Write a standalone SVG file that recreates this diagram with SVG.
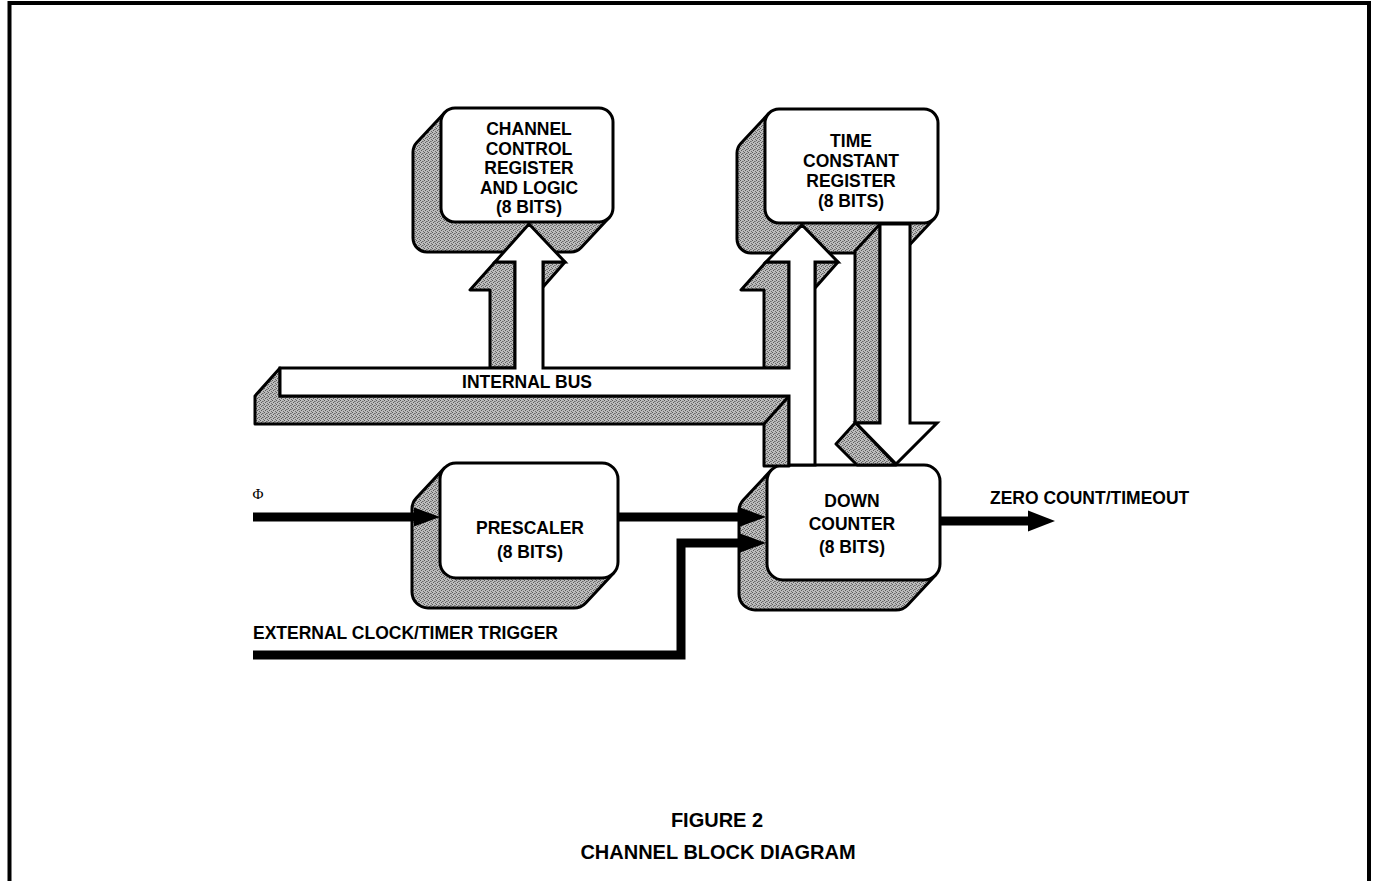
<svg xmlns="http://www.w3.org/2000/svg" width="1375" height="881" viewBox="0 0 1375 881">
<defs>
<pattern id="stip" width="4" height="4" patternUnits="userSpaceOnUse">
<rect width="4" height="4" fill="#bcbcbc"/>
<rect x="0" y="0" width="1" height="1" fill="#5a5a5a"/>
<rect x="2" y="1" width="1" height="1" fill="#6a6a6a"/>
<rect x="1" y="2" width="1" height="1" fill="#5a5a5a"/>
<rect x="3" y="3" width="1" height="1" fill="#6a6a6a"/>
<rect x="3" y="1" width="1" height="1" fill="#8a8a8a"/>
</pattern>
</defs>
<style>
.sh{fill:url(#stip);stroke:#000;stroke-width:3;stroke-linejoin:round}
.fr{fill:#fff;stroke:#000;stroke-width:3}
.wt{fill:#fff;stroke:#000;stroke-width:3;stroke-linejoin:miter}
.lbl{font-family:"Liberation Sans",Arial,sans-serif;font-weight:bold;font-size:17.5px;fill:#000}
.mid{text-anchor:middle}
.ln{fill:none;stroke:#000;stroke-width:9;stroke-linejoin:miter}
.ah{fill:#000}
.title{font-family:"Liberation Sans",Arial,sans-serif;font-weight:bold;font-size:20px;text-anchor:middle;fill:#000}
</style>
<rect width="1375" height="881" fill="#fff"/>
<g id="border" fill="none" stroke="#000" stroke-width="4">
<path d="M9.5,881 V3 H1369 V881"/>
</g>

<g id="ccr">
<path class="sh" d="M444.8,112.5 L416.8,142.5 A14,14 0 0 0 413,152 L413,238 A14,14 0 0 0 427,252 L571,252 A14,14 0 0 0 581.2,247.5 L609.2,217.5 Z"/>
<rect class="fr" x="441" y="108" width="172" height="114" rx="14"/>
<text class="lbl mid" x="529" y="135">CHANNEL</text>
<text class="lbl mid" x="529" y="154.5">CONTROL</text>
<text class="lbl mid" x="529" y="174">REGISTER</text>
<text class="lbl mid" x="529" y="193.5">AND LOGIC</text>
<text class="lbl mid" x="529" y="213">(8 BITS)</text>
</g>

<g id="tcr">
<path class="sh" d="M768.8,113.5 L740.8,143.5 A14,14 0 0 0 737,153 L737,239 A14,14 0 0 0 751,253 L896,253 A14,14 0 0 0 906.2,248.5 L934.2,218.5 Z"/>
<rect class="fr" x="765" y="109" width="173" height="114" rx="14"/>
<text class="lbl mid" x="851" y="146.5">TIME</text>
<text class="lbl mid" x="851" y="167">CONSTANT</text>
<text class="lbl mid" x="851" y="187">REGISTER</text>
<text class="lbl mid" x="851" y="207">(8 BITS)</text>
</g>

<g id="prescaler">
<path class="sh" d="M444.3,468.1 L416.3,498.1 A16,16 0 0 0 412,509 L412,592 A16,16 0 0 0 428,608 L574,608 A16,16 0 0 0 585.7,602.9 L613.7,572.9 Z"/>
<rect class="fr" x="440" y="463" width="178" height="115" rx="16"/>
<text class="lbl mid" x="530" y="534">PRESCALER</text>
<text class="lbl mid" x="530" y="558">(8 BITS)</text>
</g>

<g id="downcounter">
<path class="sh" d="M771.3,470.1 L743.3,500.1 A16,16 0 0 0 739,511 L739,594 A16,16 0 0 0 755,610 L896,610 A16,16 0 0 0 907.7,604.9 L935.7,574.9 Z"/>
<rect class="fr" x="767" y="465" width="173" height="115" rx="16"/>
<text class="lbl mid" x="852" y="507">DOWN</text>
<text class="lbl mid" x="852" y="530">COUNTER</text>
<text class="lbl mid" x="852" y="553">(8 BITS)</text>
</g>

<g id="connectors">
<path class="sh" d="M280,368 L255,396 L255,424 L764,424 L764,466 L789,466 L789,396 L280,396 Z"/>
<line x1="789" y1="396" x2="764" y2="424" stroke="#000" stroke-width="3"/>
<path class="sh" d="M495,262 L470,290 L490,290 L490,368 L515,368 L515,262 Z"/>
<path class="sh" d="M543,262 L565,262 L543,287 Z"/>
<path class="sh" d="M766,262 L741,290 L764,290 L764,368 L789,368 L789,262 Z"/>
<path class="sh" d="M815,262 L838,262 L815,288 Z"/>
<path class="wt" d="M280,368 L515,368 L515,262 L495,262 L529,224 L565,262 L543,262 L543,368 L789,368 L789,262 L766,262 L802,225 L838,262 L815,262 L815,465 L789,465 L789,396 L280,396 Z"/>
<text class="lbl mid" x="527" y="388">INTERNAL BUS</text>
<path class="sh" d="M880,224 L855,251 L855,423 L836,444 L857,465 L896,465 L856,423 L880,423 Z"/>
<path class="wt" d="M880,224 L910,224 L910,423 L937,423 L896,464 L856,423 L880,423 Z"/>
<path class="ln" d="M253,517 H418"/>
<path class="ah" d="M414,507.5 L440,517 L414,526.5 Z"/>
<path class="ln" d="M618,517 H743"/>
<path class="ah" d="M740,507.5 L766,517 L740,526.5 Z"/>
<path class="ln" d="M253,655 H681 V543 H743"/>
<path class="ah" d="M740,533.5 L766,543 L740,552.5 Z"/>
<path class="ln" d="M940,521 H1032"/>
<path class="ah" d="M1028,510.5 L1055,521 L1028,531.5 Z"/>
<text x="258" y="499" font-family="Liberation Serif, serif" font-size="15" text-anchor="middle">Φ</text>
<text class="lbl" x="253" y="639">EXTERNAL CLOCK/TIMER TRIGGER</text>
<text class="lbl" x="990" y="504">ZERO COUNT/TIMEOUT</text>
</g>

<g id="caption">
<text class="title" x="717" y="827">FIGURE 2</text>
<text class="title" x="718" y="859">CHANNEL BLOCK DIAGRAM</text>
</g>
</svg>
